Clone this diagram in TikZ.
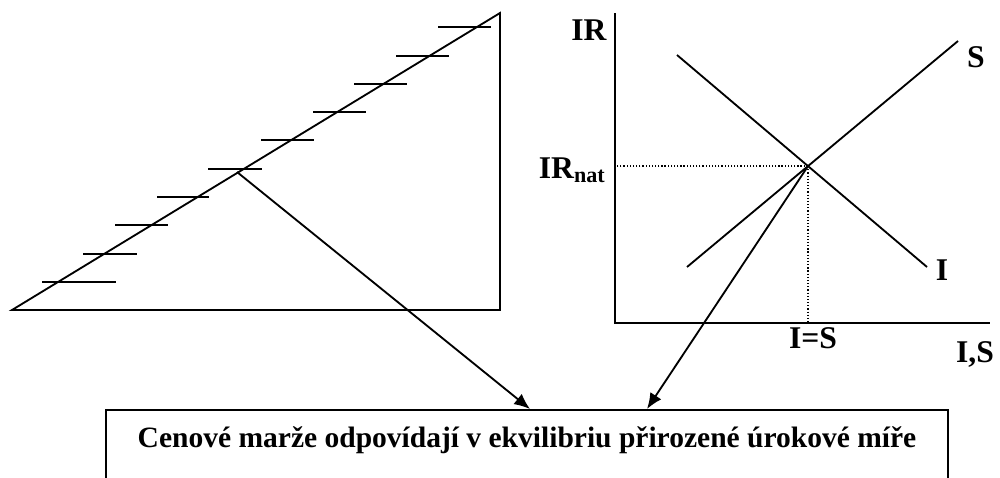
\documentclass[tikz,border=0pt]{standalone}
\usepackage{fontspec}
\setmainfont{Liberation Serif}
\usetikzlibrary{arrows.meta}
\begin{document}
\begin{tikzpicture}[x=0.02cm,y=-0.02cm,
  ln/.style={line width=1.05pt},
  tickmark/.style={line width=1.05pt},
  lbl/.style={font=\fontsize{18}{21}\selectfont\bfseries, inner sep=0pt},
  arr/.style={line width=1.05pt, -{Latex[length=9pt,width=7.5pt]}},
  dotline/.style={line width=0.7pt, dash pattern=on 0.7pt off 1.1pt}]
\useasboundingbox (0,0) rectangle (1000,477);
\clip (0,0) rectangle (1000,477);
% triangle
\coordinate (A) at (12,310);
\coordinate (B) at (500,310);
\coordinate (C) at (500,13);
\draw[ln, line join=miter] (A) -- (B) -- (C) -- cycle;
\foreach \xa/\xb/\yy in {42/116/282, 83/137/254, 115/168/225, 157/209/197,
  208/262/169, 261/314/140, 313/366/112, 354/407/84, 396/449/56, 438/491/27}
  \draw[tickmark] (\xa,\yy) -- (\xb,\yy);
\coordinate (P) at (237,172);
% graph
\coordinate (O) at (615,323);
\coordinate (Ytop) at (615,13);
\coordinate (Xend) at (990,323);
\draw[ln] (Ytop) -- (O) -- (Xend);
\coordinate (S1) at (687,267);
\coordinate (S2) at (958,41);
\coordinate (I1) at (677,55);
\coordinate (I2) at (927,267);
\draw[ln] (S1) -- (S2);
\draw[ln] (I1) -- (I2);
\coordinate (E) at (intersection of S1--S2 and I1--I2);
\draw[dotline] (E) -- (E -| O);
\draw[dotline] (E) -- (E |- O);
\node[lbl] (ir) at (589,30) {IR};
\node[lbl, anchor=base east] (irnat) at (606,178) {IR\textsubscript{nat}};
\node[lbl] (slbl) at (976,57) {S};
\node[lbl] (ilbl) at (942,270) {I};
\node[lbl, anchor=base] (ises) at (813,348) {I=S};
\node[lbl, anchor=base] (isax) at (975,362) {I,S};
% box
\node[draw, line width=1.1pt, anchor=north west, minimum width=16.84cm, minimum height=2.4cm, inner sep=0pt] (box) at (105,409) {};
\node[font=\fontsize{16.8}{20}\selectfont\bfseries, inner sep=0pt, anchor=base] (txt) at (527,447) {Cenové marže odpovídají v ekvilibriu přirozené úrokové míře};
\coordinate (t1) at (530,409);
\coordinate (t2) at (647,409);
\draw[arr] (P) -- (t1);
\draw[arr] (E) -- (t2);
\end{tikzpicture}
\end{document}
